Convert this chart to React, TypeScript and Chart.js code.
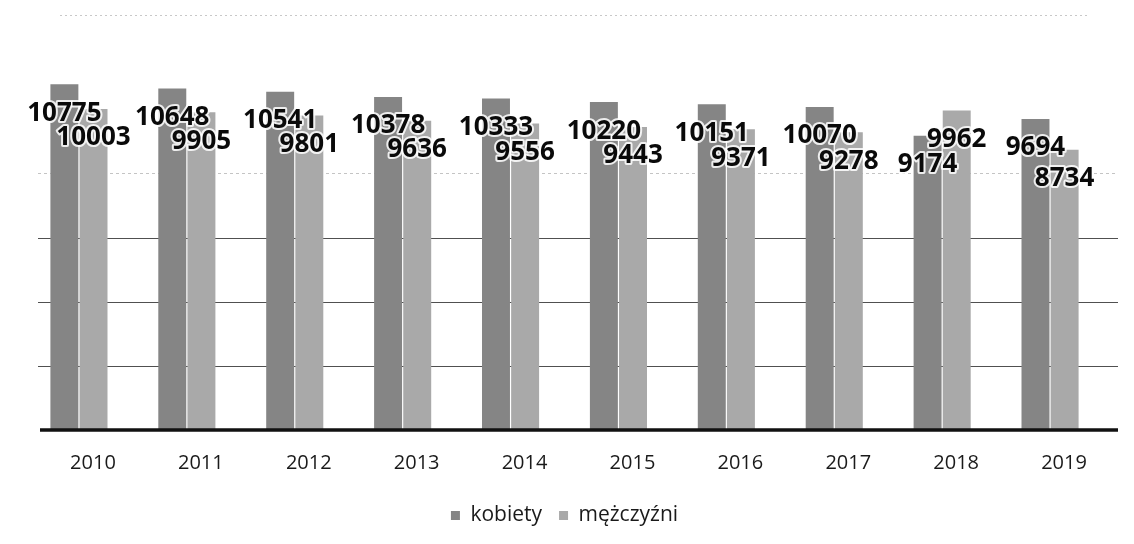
import React, { useEffect, useRef } from "react";
import { Chart, registerables } from "chart.js";

Chart.register(...registerables);

const years = ["2010", "2011", "2012", "2013", "2014", "2015", "2016", "2017", "2018", "2019"];
const kobiety = [10775, 10648, 10541, 10378, 10333, 10220, 10151, 10070, 9174, 9694];
const mezczyzni = [10003, 9905, 9801, 9636, 9556, 9443, 9371, 9278, 9962, 8734];
const seriesNames = ["kobiety", "mężczyźni"];
const yMax = 12000;
const yStep = 2000;
const solidGrid = [2000, 4000, 6000];
const faintGrid = [8000];

const labelPlugin = {
  id: "barLabels",
  afterDatasetsDraw(chart: any) {
    const ctx = chart.ctx;
    ctx.save();
    ctx.font = "bold 26px 'Noto Sans'";
    ctx.textAlign = "center";
    ctx.textBaseline = "middle";
    chart.data.datasets.forEach((ds: any, i: number) => {
      const meta = chart.getDatasetMeta(i);
      meta.data.forEach((el: any, j: number) => {
        const txt = String(ds.data[j]);
        const y = el.y + 29;
        ctx.lineWidth = 4;
        ctx.strokeStyle = "rgba(255,255,255,0.85)";
        ctx.lineJoin = "round";
        ctx.strokeText(txt, el.x, y);
        ctx.fillStyle = "#0a0a0a";
        ctx.fillText(txt, el.x, y);
      });
    });
    ctx.restore();
  },
};

const linesPlugin = {
  id: "gridAndAxis",
  beforeDatasetsDraw(chart: any) {
    const ctx = chart.ctx;
    const y = chart.scales.y;
    const x0 = 38;
    const x1 = 1118;
    ctx.save();
    ctx.lineWidth = 1;
    solidGrid.forEach((v) => {
      const py = Math.round(y.getPixelForValue(v)) + 0.5;
      ctx.strokeStyle = "#505050";
      ctx.beginPath();
      ctx.moveTo(x0, py);
      ctx.lineTo(x1, py);
      ctx.stroke();
    });
    faintGrid.forEach((v) => {
      const py = Math.round(y.getPixelForValue(v)) + 0.5;
      ctx.strokeStyle = "#c4c4c4";
      ctx.setLineDash([3, 3]);
      ctx.beginPath();
      ctx.moveTo(x0, py);
      ctx.lineTo(x1, py);
      ctx.stroke();
    });
    ctx.setLineDash([2, 3]);
    ctx.strokeStyle = "#c8c8c8";
    ctx.beginPath();
    ctx.moveTo(60, 15.5);
    ctx.lineTo(1090, 15.5);
    ctx.stroke();
    ctx.restore();
  },
  afterDatasetsDraw(chart: any) {
    const ctx = chart.ctx;
    const y = chart.scales.y;
    const py = y.getPixelForValue(0);
    ctx.save();
    ctx.strokeStyle = "#111";
    ctx.lineWidth = 3.5;
    ctx.beginPath();
    ctx.moveTo(40, py);
    ctx.lineTo(1118, py);
    ctx.stroke();
    ctx.restore();
  },
};

export default function App() {
  const ref = useRef<HTMLCanvasElement>(null);
  useEffect(() => {
    document.body.style.margin = "0";
    const chart = new Chart(ref.current!, {
      type: "bar",
      data: {
        labels: years,
        datasets: [
          {
            label: seriesNames[0],
            data: kobiety,
            backgroundColor: "#858585",
            barPercentage: 0.96,
            categoryPercentage: 0.54,
          },
          {
            label: seriesNames[1],
            data: mezczyzni,
            backgroundColor: "#a9a9a9",
            barPercentage: 0.96,
            categoryPercentage: 0.54,
          },
        ],
      },
      options: {
        responsive: false,
        animation: false,
        layout: { padding: { left: 25, right: 30, top: 45, bottom: 8 } },
        plugins: {
          legend: {
            position: "bottom",
            labels: {
              boxWidth: 9,
              boxHeight: 9,
              color: "#1a1a1a",
              font: { family: "'Open Sans'", size: 21 },
              padding: 17,
            },
          },
          tooltip: { enabled: false },
        },
        scales: {
          x: {
            grid: { display: false },
            border: { display: false },
            ticks: {
              color: "#1a1a1a",
              font: { family: "'Open Sans'", size: 20 },
              padding: 13,
              labelOffset: 14,
            },
          },
          y: {
            min: 0,
            max: yMax,
            display: true,
            border: { display: false },
            ticks: { display: false, stepSize: yStep },
            grid: { display: false, drawTicks: false },
          },
        },
      },
      plugins: [labelPlugin, linesPlugin],
    });
    return () => chart.destroy();
  }, []);
  return <canvas ref={ref} width={1134} height={544} style={{ display: "block" }} />;
}
